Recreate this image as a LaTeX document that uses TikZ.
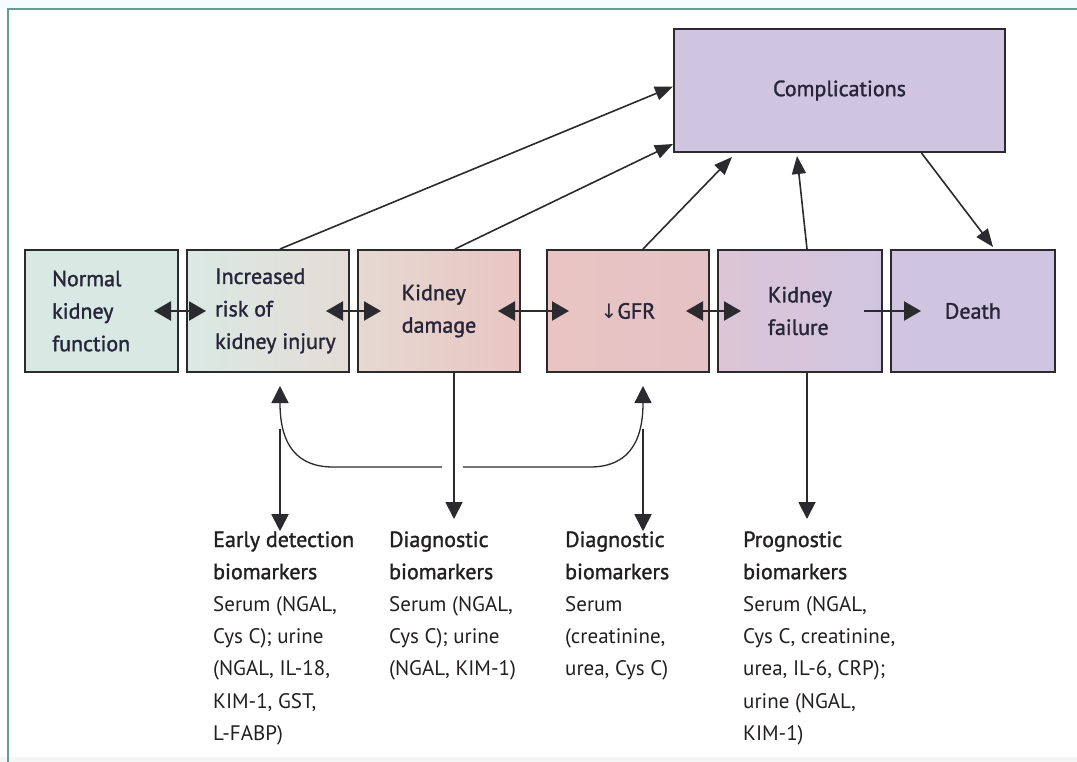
\documentclass[tikz,border=0pt]{standalone}
\usepackage{fontspec}
\setmainfont{PT Sans}
\newfontfamily\medfont[FakeBold=1.4]{PT Sans}
\newfontfamily\regfont{PT Sans}
\newfontfamily\symfont{DejaVu Sans}
\usetikzlibrary{arrows.meta,calc}
\definecolor{framecol}{HTML}{5F9E90}
\definecolor{boxline}{HTML}{2A2A2F}
\definecolor{labeltext}{HTML}{26253A}
\definecolor{bodytext}{HTML}{231F20}
\definecolor{tealA}{HTML}{D8E8E3}
\definecolor{tealB}{HTML}{DAE9E4}
\definecolor{sandC}{HTML}{E4DCD6}
\definecolor{sandD}{HTML}{E6D9D2}
\definecolor{pinkE}{HTML}{E8C5C2}
\definecolor{pinkF}{HTML}{E9C4C1}
\definecolor{pinkG}{HTML}{E4C3C6}
\definecolor{mauveH}{HTML}{DCC5D6}
\definecolor{lilac}{HTML}{D0C5E0}
\begin{document}
\begin{tikzpicture}[x=1pt,y=-1pt,
  box/.style={draw=boxline, line width=2pt, minimum height=122pt, inner sep=0pt,
    font=\medfont\fontsize{22}{32.5}\selectfont, text=labeltext, align=left},
  lbl/.style={inner sep=0pt, font=\medfont\fontsize{22}{32.5}\selectfont, text=labeltext, align=left},
  body/.style={inner sep=0pt, font=\regfont\fontsize{21}{32.2}\selectfont, text=bodytext, align=left, anchor=base west},
  hdfont/.style={},
  dbl/.style={line width=2.3pt, draw=boxline, {Triangle[length=17pt,width=19pt]}-{Triangle[length=17pt,width=19pt]}},
  sgl/.style={line width=2.3pt, draw=boxline, -{Triangle[length=17pt,width=19pt]}},
  diag/.style={line width=1.6pt, draw=boxline, -{Triangle[length=18pt,width=14pt]}},
  vert/.style={line width=1.9pt, draw=boxline, -{Triangle[length=17pt,width=17pt]}},
  curve/.style={line width=1.3pt, draw=boxline}
]
\useasboundingbox (0,0) rectangle (1077,762);
\fill[white] (0,0) rectangle (1077,762);
\fill[color=cyan!4] (0,0) rectangle (1077,8);
\fill[color=black!4] (0,757) rectangle (1077,762);
\draw[framecol, line width=2pt] (8,762) -- (8,9) -- (1077,9);

% boxes
\node[box, minimum width=153pt, fill=tealA] (b1) at (101.5,311) {};
\node[lbl, anchor=west] (t1) at ($(b1.west)+(28,0)$) {Normal\\kidney\\function};
\node[box, minimum width=162pt, left color=tealB, right color=sandC] (b2) at (268,311) {};
\node[lbl, anchor=west] (t2) at ($(b2.west)+(29,0)$) {Increased\\risk of\\kidney injury};
\node[box, minimum width=162pt, left color=sandD, right color=pinkE] (b3) at (439,311) {Kidney\\damage};
\node[box, minimum width=162pt, left color=pinkF, right color=pinkG] (b4) at (628,311) {{\symfont\fontsize{20}{32}\selectfont ↓}GFR};
\node[box, minimum width=164pt, left color=mauveH, right color=lilac] (b5) at (800,311) {Kidney\\failure};
\node[box, minimum width=164pt, fill=lilac] (b6) at (973,311) {Death};
\node[box, minimum width=331pt, minimum height=123pt, fill=lilac] (comp) at (839.5,90.5) {Complications};

% horizontal arrows
\draw[dbl] ($(b1.east)+(-25,0)$) -- ($(b2.west)+(20,0)$);
\draw[dbl] ($(b2.east)+(-24,0)$) -- ($(b3.west)+(24,0)$);
\draw[dbl] ($(b3.east)+(-23,0)$) -- ($(b4.west)+(23,0)$);
\draw[dbl] ($(b4.east)+(-24,0)$) -- ($(b5.west)+(24,0)$);
\draw[sgl] ($(b5.east)+(-19,0)$) -- ($(b6.west)+(31,0)$);

% to complications
\draw[diag] ($(b2.north)+(12,0)$) -- ($(comp.west)+(0,-4)$);
\draw[diag] ($(b3.north)+(16,0)$) -- ($(comp.south west)+(0,-9)$);
\draw[diag] ($(b4.north)+(15,0)$) -- ($(comp.south west)+(59,4)$);
\draw[diag] ($(b5.north)+(7,0)$) -- ($(comp.south)+(-42.5,3)$);
\draw[diag] ($(comp.south)+(82,0)$) -- ($(b6.north)+(20,-2)$);

% curved connector
\coordinate (uL) at ($(b2.south)+(12,13)$);
\coordinate (uR) at ($(b4.south)+(15,13)$);
\coordinate (hL1) at (333,467);
\coordinate (hL2) at (442,467);
\coordinate (hR1) at (463,467);
\coordinate (hR2) at (590,467);
\draw[curve, {Triangle[length=17pt,width=17pt]}-] (uL) -- ++(0,17) .. controls +(0,43) and +(-35,0) .. (hL1) -- (hL2);
\draw[curve, {Triangle[length=17pt,width=17pt]}-] (uR) -- ++(0,17) .. controls +(0,43) and +(35,0) .. (hR2) -- (hR1);

% biomarker texts (base anchor = baseline of last line)
\node[body] (e1) at (213,740.2) {\medfont\fontsize{22}{32.2}\selectfont Early detection\\\medfont\fontsize{22}{32.2}\selectfont biomarkers\\\regfont Serum (NGAL,\\\regfont Cys C); urine\\\regfont (NGAL, IL-18,\\\regfont KIM-1, GST,\\\regfont L-FABP)};
\node[body] (d1) at (389,675.8) {\medfont\fontsize{22}{32.2}\selectfont Diagnostic\\\medfont\fontsize{22}{32.2}\selectfont biomarkers\\\regfont Serum (NGAL,\\\regfont Cys C); urine\\\regfont (NGAL, KIM-1)};
\node[body] (d2) at (565,675.8) {\medfont\fontsize{22}{32.2}\selectfont Diagnostic\\\medfont\fontsize{22}{32.2}\selectfont biomarkers\\\regfont Serum\\\regfont (creatinine,\\\regfont urea, Cys C)};
\node[body] (p1) at (743,740.2) {\medfont\fontsize{22}{32.2}\selectfont Prognostic\\\medfont\fontsize{22}{32.2}\selectfont biomarkers\\\regfont Serum (NGAL,\\\regfont Cys C, creatinine,\\\regfont urea, IL-6, CRP);\\\regfont urine (NGAL,\\\regfont KIM-1)};

% vertical arrows to biomarkers
\coordinate (vL) at ($(b2.south)+(12,56)$);
\coordinate (vR) at ($(b4.south)+(15,56)$);
\draw[vert] (vL) -- (vL |- e1.north);
\draw[vert] (vR) -- (vR |- d2.north);
\draw[vert] ($(b3.south)+(15,0)$) -- ($(b3.south)+(15,146)$);
\draw[vert] ($(b5.south)+(7,0)$) -- ($(b5.south)+(7,146)$);
\end{tikzpicture}
\end{document}
